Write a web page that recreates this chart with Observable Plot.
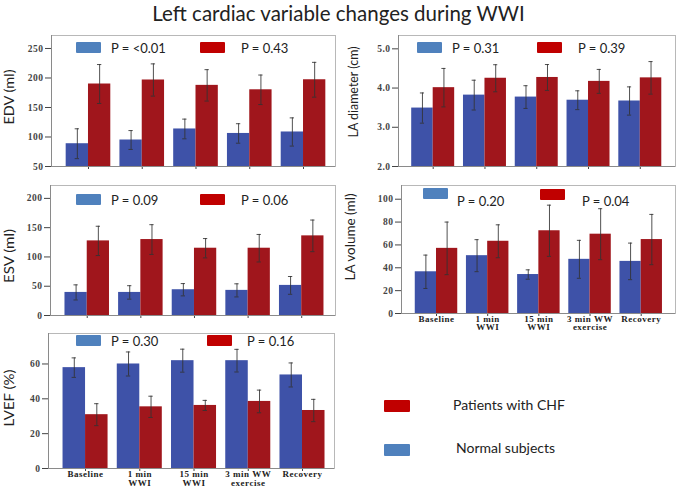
<!DOCTYPE html>
<html>
<head>
<meta charset="utf-8">
<script src="https://cdn.jsdelivr.net/npm/d3@7"></script>
<script src="https://cdn.jsdelivr.net/npm/@observablehq/plot@0.6"></script>
<style>
  html, body { margin: 0; padding: 0; background: #fff; }
  #chart { position: relative; width: 677px; height: 489px; overflow: hidden; background: #fff; }
  .abs { position: absolute; }
  .title { left: 0; top: 0; width: 677px; text-align: center; font: 20.5px Lato, sans-serif; line-height: 26px; color: #222; }
  .sw { position: absolute; border-radius: 1px; }
  .lt { position: absolute; font: 13px Lato, sans-serif; color: #222; line-height: 14px; white-space: nowrap; }
  .bl { position: absolute; font: 14px Lato, sans-serif; color: #222; line-height: 16px; white-space: nowrap; }
  .yl { position: absolute; left: 0; top: 0; font: 14px Lato, sans-serif; color: #222; line-height: 16px; white-space: nowrap; transform-origin: 50% 50%; }
</style>
</head>
<body>
<div id="chart"></div>
<script>
// ---- data ----
const categories = ["Baseline", "1 min WWI", "15 min WWI", "3 min WW exercise", "Recovery"];
const xLabels = ["Baseline", "1 min\nWWI", "15 min\nWWI", "3 min WW\nexercise", "Recovery"];

const edvNormal = [88.6, 94.9, 113.6, 106, 108.5];
const edvNormalSD = [25.3, 16, 16.7, 16.5, 23.9];
const edvCHF = [189.8, 196.6, 187.5, 180, 197];
const edvCHFSD = [33, 27.3, 26.6, 25, 29.5];
const edvP = ["P = <0.01", "P = 0.43"];

const ladNormal = [3.49, 3.82, 3.77, 3.69, 3.67];
const ladNormalSD = [0.385, 0.38, 0.29, 0.24, 0.36];
const ladCHF = [4.01, 4.25, 4.27, 4.17, 4.26];
const ladCHFSD = [0.49, 0.345, 0.33, 0.305, 0.415];
const ladP = ["P = 0.31", "P = 0.39"];

const esvNormal = [39.4, 39.4, 44, 42.9, 51.4];
const esvNormalSD = [12.9, 11.5, 10.5, 11.2, 15.2];
const esvCHF = [127.4, 129.7, 114.9, 114.9, 136];
const esvCHFSD = [25, 25.4, 16.5, 23.5, 27];
const esvP = ["P = 0.09", "P = 0.06"];

const lavNormal = [36.5, 50.6, 34.1, 47.4, 45.6];
const lavNormalSD = [14.6, 14, 4.1, 16.6, 16];
const lavCHF = [57, 63.2, 72.4, 69.4, 64.7];
const lavCHFSD = [23, 14.4, 22.4, 22.3, 22];
const lavP = ["P = 0.20", "P = 0.04"];

const lvefNormal = [57.9, 60, 61.9, 61.9, 53.7];
const lvefNormalSD = [5.6, 6.9, 6.6, 6.5, 6.9];
const lvefCHF = [30.9, 35.4, 36.2, 38.5, 33.3];
const lvefCHFSD = [6.3, 6.1, 2.9, 6.5, 6.4];
const lvefP = ["P = 0.30", "P = 0.16"];

const seriesNames = ["Patients with CHF", "Normal subjects"];
const title = "Left cardiac variable changes during WWI";

// ---- styles ----
const BAR_BLUE = "#3e52a8";
const BAR_RED = "#a0161c";
const SW_BLUE = "#4f81bd";
const SW_RED = "#c00000";

const chart = document.getElementById("chart");

const t = document.createElement("div");
t.className = "abs title";
t.textContent = title;
chart.appendChild(t);

const measureCtx = document.createElement("canvas").getContext("2d");
measureCtx.font = "14px Lato, sans-serif";

function yLabel(text, cx, cy, len) {
  const d = document.createElement("div");
  d.className = "yl";
  d.textContent = text;
  chart.appendChild(d);
  const w = d.getBoundingClientRect().width || measureCtx.measureText(text).width;
  const h = 16;
  const sx = len / w;
  d.style.left = (cx - w / 2) + "px";
  d.style.top = (cy - h / 2) + "px";
  d.style.transform = `rotate(-90deg) scale(${sx}, 1)`;
}

function panel(cfg) {
  const hw = 0.415, cap = 0.04;
  const rows = [];
  categories.forEach((c, i) => {
    rows.push({i, cat: c, side: -1, mean: cfg.normal[i], sd: cfg.normalSD[i]});
    rows.push({i, cat: c, side: 1, mean: cfg.chf[i], sd: cfg.chfSD[i]});
  });
  const normalRows = rows.filter(d => d.side < 0);
  const chfRows = rows.filter(d => d.side > 0);
  const y0 = cfg.yDomain[0];
  const cx = d => d.i + d.side * hw / 2;
  const marks = [
    Plot.rectY(normalRows, {x1: d => d.i - hw, x2: d => d.i, y1: () => y0, y2: "mean", fill: BAR_BLUE}),
    Plot.rectY(chfRows, {x1: d => d.i, x2: d => d.i + hw, y1: () => y0, y2: "mean", fill: BAR_RED}),
    Plot.ruleX(rows, {x: cx, y1: d => d.mean - d.sd, y2: d => d.mean + d.sd, stroke: "#333", strokeWidth: 1, strokeOpacity: 0.85}),
    Plot.ruleY(rows, {x1: d => cx(d) - cap, x2: d => cx(d) + cap, y: d => d.mean + d.sd, stroke: "#333", strokeWidth: 1, strokeOpacity: 0.85}),
    Plot.ruleY(rows, {x1: d => cx(d) - cap, x2: d => cx(d) + cap, y: d => d.mean - d.sd, stroke: "#333", strokeWidth: 1, strokeOpacity: 0.85}),
    Plot.frame({stroke: "#b8b8b8"}),
    Plot.ruleX([cfg.xDomain[0]], {stroke: "#8a8a8a"}),
    Plot.ruleY([y0], {stroke: "#8a8a8a"})
  ];
  if (cfg.showLabels) {
    marks.push(Plot.text(categories.map((c, i) => ({i, label: xLabels[i]})), {
      x: "i", text: "label", frameAnchor: "bottom", lineAnchor: "top", dy: cfg.xLabelDy,
      lineHeight: 0.95, fontSize: 9, fontWeight: "bold", fill: "#222",
      fontFamily: "'Liberation Serif', 'DejaVu Serif', serif"
    }));
  }
  const svg = Plot.plot({
    width: cfg.w, height: cfg.h,
    marginTop: cfg.m[0], marginRight: cfg.m[1], marginBottom: cfg.m[2], marginLeft: cfg.m[3],
    x: {domain: cfg.xDomain, ticks: [0, 1, 2, 3, 4], tickFormat: () => "", tickSize: 3, label: null},
    y: {domain: cfg.yDomain, ticks: cfg.yTicks, tickFormat: cfg.yFormat, tickSize: 6, tickPadding: 2, label: null},
    style: {fontFamily: "'Liberation Serif', 'DejaVu Serif', serif", fontSize: "9.5px", fontWeight: "bold",
      letterSpacing: "0.5px", color: "#444", background: "transparent", overflow: "visible"},
    marks
  });
  svg.style.position = "absolute";
  svg.style.left = cfg.left + "px";
  svg.style.top = cfg.top + "px";
  chart.appendChild(svg);

  yLabel(cfg.ylabel, cfg.lab[0], cfg.lab[1], cfg.lab[2]);

  // in-panel legend
  cfg.legend.forEach((L, k) => {
    const s = document.createElement("div");
    s.className = "sw";
    s.style.left = L.sx + "px"; s.style.top = L.sy + "px";
    s.style.width = "25px"; s.style.height = "11px";
    s.style.background = k === 0 ? SW_BLUE : SW_RED;
    chart.appendChild(s);
    const tx = document.createElement("div");
    tx.className = "lt";
    tx.style.left = L.tx + "px"; tx.style.top = (L.ty - 7) + "px";
    tx.textContent = cfg.p[k];
    chart.appendChild(tx);
  });
}

const fmt1 = d3.format(".1f");
const fmt0 = d3.format("d");

panel({left: 0, top: 28, w: 340, h: 150, m: [7, 5, 12, 51],
  xDomain: [-0.688, 4.595], yDomain: [50, 272], yTicks: [50, 100, 150, 200, 250], yFormat: fmt0,
  normal: edvNormal, normalSD: edvNormalSD, chf: edvCHF, chfSD: edvCHFSD, p: edvP,
  ylabel: "EDV (ml)", lab: [9, 97, 55],
  legend: [{sx: 76, sy: 42, tx: 111, ty: 48}, {sx: 200, sy: 42, tx: 241, ty: 48}]});

panel({left: 340, top: 28, w: 337, h: 150, m: [7, 2, 12, 58],
  xDomain: [-0.67, 4.68], yDomain: [2, 5.34], yTicks: [2, 3, 4, 5], yFormat: fmt1,
  normal: ladNormal, normalSD: ladNormalSD, chf: ladCHF, chfSD: ladCHFSD, p: ladP,
  ylabel: "LA diameter (cm)", lab: [353, 92, 91],
  legend: [{sx: 417, sy: 42, tx: 452, ty: 48}, {sx: 537, sy: 42, tx: 578, ty: 48}]});

panel({left: 0, top: 178, w: 340, h: 150, m: [7, 5, 13, 50],
  xDomain: [-0.685, 4.63], yDomain: [0, 222], yTicks: [0, 50, 100, 150, 200], yFormat: fmt0,
  normal: esvNormal, normalSD: esvNormalSD, chf: esvCHF, chfSD: esvCHFSD, p: esvP,
  ylabel: "ESV (ml)", lab: [9, 256, 54],
  legend: [{sx: 76, sy: 194, tx: 111, ty: 200}, {sx: 200, sy: 194, tx: 241, ty: 200}]});

panel({left: 340, top: 178, w: 337, h: 162, m: [7, 2, 27, 61],
  xDomain: [-0.684, 4.67], yDomain: [0, 112], yTicks: [0, 20, 40, 60, 80, 100], yFormat: fmt0,
  normal: lavNormal, normalSD: lavNormalSD, chf: lavCHF, chfSD: lavCHFSD, p: lavP,
  ylabel: "LA volume (ml)", lab: [350, 237, 87],
  showLabels: true, xLabelDy: 2,
  legend: [{sx: 423, sy: 188, tx: 457, ty: 201}, {sx: 540, sy: 189, tx: 582, ty: 201}]});

panel({left: 0, top: 326, w: 340, h: 163, m: [7, 6, 21, 48],
  xDomain: [-0.683, 4.59], yDomain: [0, 77.5], yTicks: [0, 20, 40, 60], yFormat: fmt0,
  normal: lvefNormal, normalSD: lvefNormalSD, chf: lvefCHF, chfSD: lvefCHFSD, p: lvefP,
  ylabel: "LVEF (%)", lab: [9, 398, 57],
  showLabels: true, xLabelDy: 2.5,
  legend: [{sx: 76, sy: 335, tx: 111, ty: 341}, {sx: 207, sy: 335, tx: 247, ty: 341}]});

// bottom-right series legend
[{c: SW_RED, y: 400, tx: 453, ty: 405, name: seriesNames[0]},
 {c: SW_BLUE, y: 444, tx: 456, ty: 448, name: seriesNames[1]}].forEach(L => {
  const s = document.createElement("div");
  s.className = "sw";
  s.style.left = "384px"; s.style.top = L.y + "px";
  s.style.width = "26px"; s.style.height = "12px";
  s.style.background = L.c;
  chart.appendChild(s);
  const tx = document.createElement("div");
  tx.className = "bl";
  tx.style.left = L.tx + "px"; tx.style.top = (L.ty - 8) + "px";
  tx.textContent = L.name;
  chart.appendChild(tx);
});
</script>
</body>
</html>
